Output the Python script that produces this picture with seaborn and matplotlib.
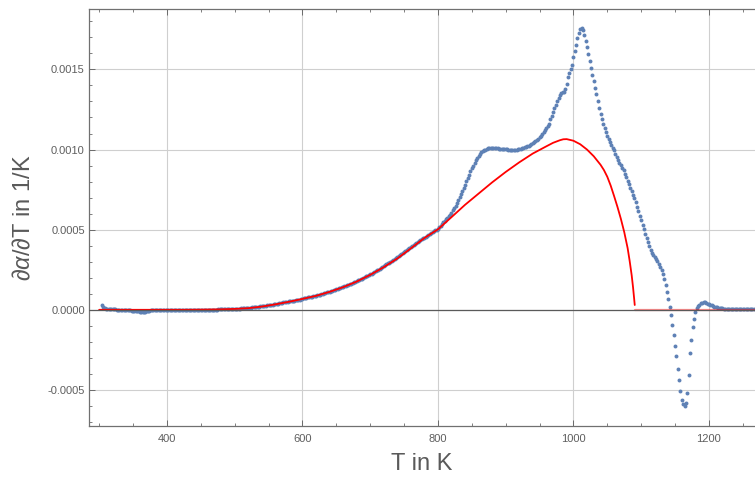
import numpy as np
import pandas as pd
import matplotlib
matplotlib.use("Agg")
import matplotlib.pyplot as plt
from matplotlib.ticker import MultipleLocator, FuncFormatter
import seaborn as sns

# ---------------- data ----------------
# measured d(alpha)/dT in units of 1e-5 1/K, sampled every 2 K;
# each segment starts at the temperature given in seg_starts
T_STEP = 2
seg_starts = [304, 472, 602, 802, 962, 1014, 1144, 1202]

seg_1 = [3.0, 1.8, 1.0, 0.6, 0.5, 0.4, 0.4, 0.3, 0.3, 0.2,
         0.2, 0.1, 0.1, 0.0, 0.0, -0.1, -0.1, -0.2, -0.2, -0.3,
         -0.3, -0.4, -0.5, -0.6, -0.7, -0.8, -0.9, -1.0, -1.1, -1.2,
         -1.2, -1.2, -1.1, -0.9, -0.7, -0.5, -0.4, -0.3, -0.2, -0.2,
         -0.1, -0.1, -0.1, 0.0, 0.0, 0.0, 0.0, 0.0, 0.0, 0.0,
         0.0, 0.0, 0.0, 0.0, 0.0, 0.0, 0.0, 0.0, 0.0, 0.0,
         0.0, 0.0, 0.0, 0.0, 0.0, 0.0, 0.0, 0.0, 0.0, 0.0,
         0.0, 0.0, 0.0, 0.0, 0.0, 0.0, 0.1, 0.1, 0.1, 0.1,
         0.1, 0.1, 0.1, 0.1]
seg_2 = [0.1, 0.1, 0.2, 0.2, 0.3, 0.3, 0.3, 0.4, 0.4, 0.4,
         0.5, 0.5, 0.5, 0.6, 0.6, 0.7, 0.7, 0.8, 0.8, 0.9,
         1.0, 1.0, 1.1, 1.2, 1.3, 1.3, 1.4, 1.5, 1.6, 1.7,
         1.8, 1.9, 2.0, 2.1, 2.2, 2.3, 2.5, 2.6, 2.7, 2.9,
         3.0, 3.1, 3.3, 3.4, 3.6, 3.7, 3.9, 4.1, 4.2, 4.4,
         4.6, 4.7, 4.9, 5.1, 5.2, 5.4, 5.5, 5.7, 5.8, 6.0,
         6.1, 6.2, 6.4, 6.6, 6.9]
seg_3 = [7.1, 7.3, 7.5, 7.7, 7.9, 8.1, 8.3, 8.5, 8.7, 8.9,
         9.1, 9.3, 9.5, 9.8, 10.0, 10.3, 10.5, 10.8, 11.0, 11.3,
         11.6, 11.9, 12.2, 12.5, 12.8, 13.1, 13.4, 13.7, 14.0, 14.3,
         14.6, 15.0, 15.3, 15.7, 16.0, 16.4, 16.7, 17.1, 17.5, 17.9,
         18.3, 18.7, 19.1, 19.5, 20.0, 20.4, 20.8, 21.3, 21.7, 22.2,
         22.6, 23.1, 23.6, 24.1, 24.6, 25.1, 25.6, 26.2, 26.7, 27.3,
         27.8, 28.4, 29.0, 29.5, 30.1, 30.7, 31.3, 31.9, 32.5, 33.1,
         33.7, 34.3, 34.9, 35.5, 36.1, 36.7, 37.3, 37.9, 38.5, 39.1,
         39.7, 40.3, 40.9, 41.5, 42.1, 42.7, 43.3, 43.9, 44.5, 45.1,
         45.7, 46.3, 46.8, 47.4, 47.9, 48.5, 49.0, 49.6, 50.1, 50.6]
seg_4 = [51.5, 52.5, 53.5, 54.5, 55.5, 56.5, 57.5, 58.5, 59.3, 60.6,
         62.0, 63.5, 65.0, 66.5, 68.3, 70.2, 72.1, 74.0, 76.0, 78.0,
         80.1, 82.2, 84.3, 86.3, 88.2, 90.0, 91.7, 93.4, 94.9, 96.2,
         97.3, 98.2, 98.9, 99.5, 100.0, 100.4, 100.7, 100.9, 101.0, 101.0,
         101.0, 100.9, 100.8, 100.7, 100.6, 100.6, 100.5, 100.4, 100.3, 100.2,
         100.1, 100.0, 99.9, 99.8, 99.8, 99.8, 99.9, 100.0, 100.1, 100.3,
         100.5, 100.7, 101.0, 101.3, 101.7, 102.1, 102.5, 103.0, 103.5, 104.0,
         104.6, 105.2, 105.9, 106.7, 107.6, 108.6, 109.7, 111.0, 112.0, 113.2]
seg_5 = [114.5, 116.0, 118.8, 121.2, 123.5, 125.7, 127.9, 130.0, 132.0, 134.0,
         135.0, 135.6, 136.0, 137.5, 141.0, 145.0, 148.0, 150.5, 153.0, 157.5,
         161.5, 165.5, 169.5, 173.0, 175.0, 175.6]
seg_6 = [174.5, 171.5, 167.5, 164.0, 159.8, 155.5, 151.0, 146.8, 142.7, 138.5,
         134.4, 130.2, 126.0, 121.9, 118.8, 116.0, 113.2, 110.7, 108.5, 106.5,
         104.6, 102.9, 101.2, 99.5, 97.2, 95.3, 93.5, 91.8, 90.2, 88.7,
         87.0, 85.0, 82.8, 80.6, 78.4, 76.2, 74.0, 71.8, 69.5, 67.0,
         64.2, 61.5, 58.8, 56.0, 53.2, 50.4, 47.6, 44.8, 42.0, 39.5,
         37.2, 35.4, 34.2, 33.0, 31.7, 30.3, 28.7, 27.0, 24.8, 22.3,
         19.5, 15.5, 11.3, 6.8, 1.5]
seg_7 = [-3.0, -9.5, -16.0, -22.5, -29.0, -37.0, -44.0, -50.5, -56.0, -59.0,
         -60.0, -58.0, -52.0, -40.5, -27.0, -19.0, -11.0, -6.0, -1.5, 1.0,
         2.2, 3.2, 4.0, 4.4, 4.7, 4.6, 4.3, 3.9, 3.5]
seg_8 = [3.1, 2.7, 2.3, 2.0, 1.8, 1.6, 1.4, 1.2, 1.0, 0.9,
         0.8, 0.7, 0.6, 0.5, 0.5, 0.5, 0.5, 0.5, 0.5, 0.5,
         0.5, 0.5, 0.5, 0.5, 0.5, 0.5, 0.5, 0.5, 0.5, 0.5,
         0.5, 0.5, 0.5]
segments = [seg_1, seg_2, seg_3, seg_4, seg_5, seg_6, seg_7, seg_8]

# fitted model (red curve), units of 1e-5 1/K
fit_T = [300, 320, 340, 360, 380, 400, 420, 440, 460, 480, 500, 520, 540, 560,
         580, 600, 620, 640, 660, 680, 700, 720, 740, 760, 780, 800, 820, 840,
         860, 880, 900, 920, 940, 960, 970, 980, 985, 990, 1000, 1010, 1020, 1030,
         1040, 1045, 1050, 1055, 1060, 1065, 1070, 1075, 1080, 1083, 1086, 1088,
         1089.5, 1090.5]
fit_val = [0, 0, 0, 0, 0, 0, 0, 0.05, 0.15, 0.3, 0.55, 1.0, 2.0, 3.4,
           5.0, 6.8, 8.7, 11.2, 14.1, 17.6, 21.8, 26.6, 32.0, 38.3, 44.8, 50.2, 57.8, 65.5,
           72.5, 79.5, 86.0, 92.0, 97.5, 102.0, 104.2, 105.8, 106.4, 106.5, 105.5, 103.3, 100.0,
           95.8, 90.5, 87.2, 83.0, 77.5, 71.0, 64.2, 56.8, 48.5, 38.5, 30.5, 21.5, 14.0,
           7.5, 3.0]
fit_tail_T = [1090.5, 1268]
fit_tail_val = [0, 0]

UNIT = 1e-5
x_ticks = [400, 600, 800, 1000, 1200]
y_ticks = [-0.0005, 0.0, 0.0005, 0.0010, 0.0015]
x_label = "T in K"
y_label = r"$\partial\alpha/\partial$T in 1/K"

# ---------------- build tables ----------------
rows_T, rows_v = [], []
for start, seg in zip(seg_starts, segments):
    rows_T.extend(start + T_STEP * np.arange(len(seg)))
    rows_v.extend(seg)
meas = pd.DataFrame({"T": rows_T, "dadt": np.array(rows_v) * UNIT})
fit = pd.DataFrame({"T": fit_T, "dadt": np.array(fit_val) * UNIT})
tail = pd.DataFrame({"T": fit_tail_T, "dadt": np.array(fit_tail_val) * UNIT})

# ---------------- style ----------------
sns.set_theme(style="white")
plt.rcParams["font.family"] = ["Liberation Sans", "DejaVu Sans"]
plt.rcParams["mathtext.fontset"] = "custom"
plt.rcParams["mathtext.rm"] = "Liberation Sans"
plt.rcParams["mathtext.it"] = "Liberation Sans:italic"

W, H = 755, 478
fig = plt.figure(figsize=(W / 100, H / 100), dpi=100)
ax = fig.add_axes([89 / W, 1 - 426 / H, (W - 89) / W, 416.7 / H])

ax.set_xlim(285, 1268)
ax.set_ylim(-0.000725, 0.001875)

ax.grid(True, which="major", color="#cfcfcf", lw=0.8, zorder=0)
ax.set_axisbelow(True)

sns.scatterplot(data=meas, x="T", y="dadt", s=8, color="#5E81B5",
                linewidth=0, ax=ax, zorder=2, legend=False)
sns.lineplot(data=fit, x="T", y="dadt", color="#FF0000", lw=1.3,
             estimator=None, sort=False, ax=ax, zorder=3, legend=False)
sns.lineplot(data=tail, x="T", y="dadt", color="#FF0000", lw=1.6, alpha=0.45,
             estimator=None, sort=False, ax=ax, zorder=3, legend=False)
ax.axhline(0, color="#5a5a5a", lw=0.9, zorder=4)

ax.set_xticks(x_ticks)
ax.set_yticks(y_ticks)
ax.xaxis.set_minor_locator(MultipleLocator(50))
ax.yaxis.set_minor_locator(MultipleLocator(0.0001))
ax.yaxis.set_major_formatter(FuncFormatter(lambda v, p: f"{v:.4f}"))
ax.xaxis.set_major_formatter(FuncFormatter(lambda v, p: f"{v:.0f}"))

ax.tick_params(which="both", direction="in", top=True, right=False,
               bottom=True, left=True, colors="#6a6a6a",
               labelcolor="#5f5f5f", labelsize=8)
ax.tick_params(which="major", length=4, width=0.7)
ax.tick_params(which="minor", length=2.3, width=0.6)
ax.tick_params(axis="x", pad=6)
ax.tick_params(axis="y", pad=3)

for side in ["left", "bottom", "top"]:
    ax.spines[side].set_visible(True)
    ax.spines[side].set_color("#707070")
    ax.spines[side].set_linewidth(0.9)
ax.spines["right"].set_visible(False)

ax.set_xlabel(x_label, fontsize=17, color="#5a5a5a", labelpad=6)
ax.set_ylabel(y_label, fontsize=17, color="#5a5a5a", labelpad=9)

fig.savefig("out.png", dpi=100)
